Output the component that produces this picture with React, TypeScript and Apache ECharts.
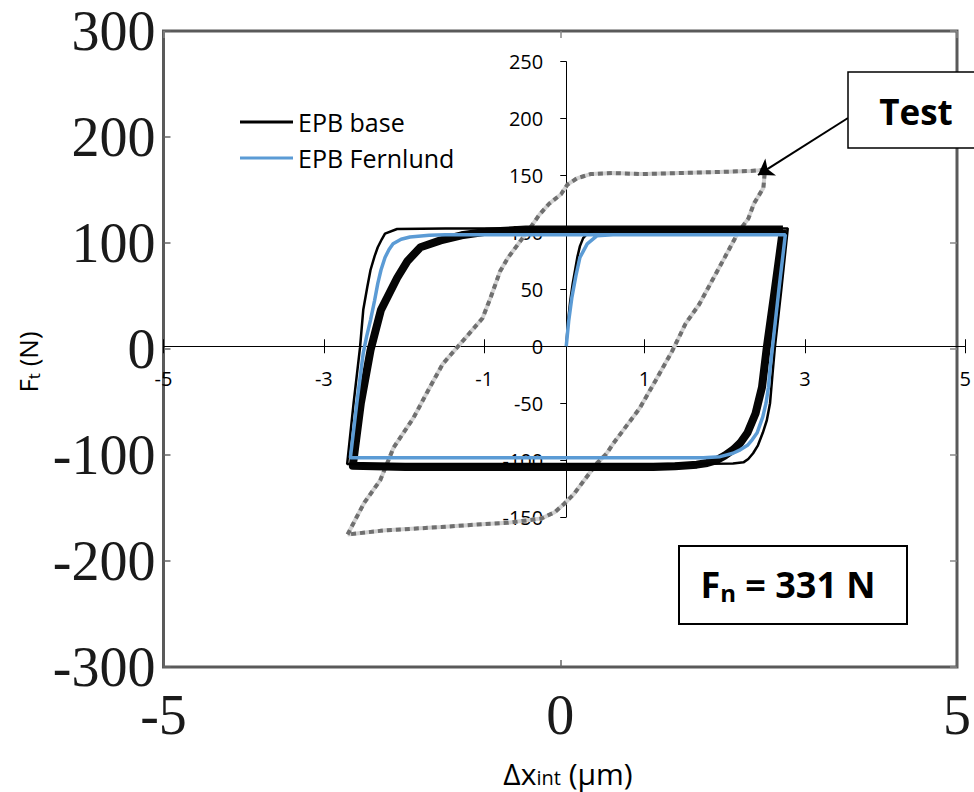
import React, { useEffect, useRef } from "react";
import * as echarts from "echarts";

// ---- Data (outer axes: Test measurement) ----
const testX = [-2.68, -2.59, -2.47, -2.27, -2.1, -1.85, -1.65, -1.48, -1.2, -0.98, -0.88, -0.76, -0.66, -0.53, -0.41, -0.26, -0.14, 0.01, 0.09, 0.21, 0.38, 0.67, 1.04, 1.5, 2.0, 2.4, 2.58, 2.56, 2.44, 2.37, 2.25, 2.07, 1.91, 1.75, 1.58, 1.41, 1.2, 1.0, 0.79, 0.67, 0.58, 0.46, 0.33, 0.17, 0.05, -0.07, -0.24, -0.66, -0.94, -1.5, -2.2, -2.68];
const testY = [-175, -162, -145, -124, -93, -65, -37, -14, 10, 29, 48, 73, 86, 99, 111, 127, 137, 146, 155, 161, 165, 166, 165, 166, 167, 168, 169, 152, 137, 123, 111, 86, 64, 42, 24, -2, -30, -56, -77, -89, -99, -108, -121, -137, -146, -154, -160, -164, -165, -168, -171, -175];

// ---- Data (inner axes: EPB models) ----
const baseThickX = [2.69, 2.59, 2.49, 2.43, 2.35, 2.25, 2.16, 2.07, 1.97, 1.87, 1.75, 1.62, 1.35, 1.08, 0, -2.0, -2.65, -2.55, -2.43, -2.3, -2.1, -1.97, -1.81, -1.56, -1.3, -1.0, -0.5, 0, 2.69];
const baseThickY = [102.5, 50, -1, -36, -59, -76, -85, -91, -96, -100, -102.5, -104, -105.5, -106, -106, -106, -105, -50, -3.5, 32, 60, 75, 87, 93, 97.5, 100.5, 102.5, 102.5, 102.5];

const baseThinX = [0, 0.02, 0.05, 0.08, 0.11, 0.14, 0.17, 0.21, 0.26, 0.33, 0.42, 0.7, 1.5, 2.75, 2.67, 2.59, 2.56, 2.53, 2.49, 2.44, 2.38, 2.32, 2.26, 2.2, 2.07, 1.5, 0, -2.72, -2.64, -2.56, -2.52, -2.47, -2.43, -2.38, -2.34, -2.29, -2.25, -2.1, -1.5, 0, 2.75];
const baseThinY = [0, 20, 40, 55, 67, 79, 88, 95, 99, 101.5, 102.5, 103.2, 103.5, 103.5, 50, -1, -25, -50, -65, -76, -87, -94, -99, -102, -103, -103.5, -103.5, -103.5, -50, -1, 32, 52, 67, 79, 87, 94, 99, 103, 103.5, 103.5, 103.5];

const fernX = [0, 0.03, 0.07, 0.12, 0.17, 0.26, 0.38, 0.58, 1.5, 2.72, 2.64, 2.56, 2.53, 2.51, 2.48, 2.44, 2.4, 2.37, 2.31, 2.25, 2.16, 2.07, 1.91, 1.7, 1.5, 0, -1.5, -2.68, -2.6, -2.52, -2.48, -2.43, -2.38, -2.34, -2.3, -2.25, -2.2, -2.15, -2.05, -1.94, -1.7, -1.5, 0, 2.72];
const fernY = [0, 22, 43, 62, 78, 90, 97, 98, 98, 98, 50, -1, -20, -36, -50, -62, -70, -76, -82, -87, -91, -94, -97, -98, -98, -98, -98, -98, -50, -6, 8, 23, 40, 55, 67, 78, 85, 90, 94, 96, 97.5, 98, 98, 98];

// ---- Axis ranges ----
const outerXRange = [-5, 5];
const outerYRange = [-300, 300];
const innerXRange = [-5, 5];
const innerYRange = [-150, 250];

const zip = (xs: number[], ys: number[]) => xs.map((x, i) => [x, ys[i]]);

const W = 974;
const H = 792;
const PLOT_LEFT = 163.5;
const PLOT_RIGHT = 5;
const INNER_TOP = 61.7;
const INNER_BOTTOM = 275;

export default function App() {
  const ref = useRef<HTMLDivElement>(null);
  useEffect(() => {
    if (!ref.current) return;
    const chart = echarts.init(ref.current, undefined, { renderer: "svg" });
    const serif = '"Liberation Serif", "Times New Roman", serif';
    const sans = '"Open Sans", "Noto Sans", sans-serif';

    // pixel positions of the inner zero lines, derived from the inner scales
    const innerW = W - PLOT_LEFT - PLOT_RIGHT;
    const innerH = H - INNER_TOP - INNER_BOTTOM;
    const zeroX = PLOT_LEFT + innerW * (0 - innerXRange[0]) / (innerXRange[1] - innerXRange[0]);
    const zeroY = INNER_TOP + innerH * (innerYRange[1] - 0) / (innerYRange[1] - innerYRange[0]);

    const hiddenAxis = (gridIndex: number, range: number[]) => ({
      type: "value", gridIndex, min: range[0], max: range[1], show: false,
      axisLine: { show: false, onZero: false }, splitLine: { show: false },
    });

    const option: any = {
      animation: false,
      backgroundColor: "#ffffff",
      grid: [
        { left: PLOT_LEFT, right: PLOT_RIGHT, top: 31, bottom: 125, show: true, borderColor: "#5a5a5a", borderWidth: 3, backgroundColor: "transparent" },
        { left: PLOT_LEFT, right: PLOT_RIGHT, top: INNER_TOP, bottom: INNER_BOTTOM },
        { left: zeroX, right: PLOT_RIGHT, top: INNER_TOP, bottom: INNER_BOTTOM },
        { left: PLOT_LEFT, right: PLOT_RIGHT, top: INNER_TOP, bottom: H - zeroY },
      ],
      legend: {
        data: ["EPB base", "EPB Fernlund"],
        left: 235,
        top: 104,
        orient: "vertical",
        icon: "rect",
        itemWidth: 53,
        itemHeight: 3,
        itemGap: 10,
        selectedMode: false,
        textStyle: { fontFamily: sans, fontSize: 25, color: "#000", lineHeight: 26 },
      },
      xAxis: [
        {
          type: "value", gridIndex: 0, min: outerXRange[0], max: outerXRange[1], interval: 5, position: "bottom",
          axisLine: { show: false, onZero: false }, splitLine: { show: false },
          axisTick: { inside: true, length: 7, lineStyle: { color: "#666", width: 1.5 } },
          axisLabel: { fontFamily: serif, fontSize: 56, lineHeight: 40, color: "#1a1a1a", margin: 28 },
        },
        {
          type: "value", gridIndex: 0, min: outerXRange[0], max: outerXRange[1], interval: 5, position: "top",
          axisLine: { show: false, onZero: false }, splitLine: { show: false },
          axisTick: { inside: true, length: 7, lineStyle: { color: "#888", width: 1.5 } },
          axisLabel: { show: false },
        },
        // inner data axis (hidden)
        hiddenAxis(1, innerXRange),
        // grid 2 companion (hidden)
        hiddenAxis(2, [0, innerXRange[1]]),
        // inner visible x axis, ticks downward with labels
        {
          type: "value", gridIndex: 3, min: innerXRange[0], max: innerXRange[1], interval: 2, position: "bottom",
          axisLine: { show: true, onZero: false, lineStyle: { color: "#000", width: 1 } },
          splitLine: { show: false },
          axisTick: { inside: false, length: 7, lineStyle: { color: "#000", width: 1 } },
          axisLabel: { fontFamily: sans, fontSize: 20, color: "#000", margin: 22 },
        },
        // inner visible x axis, ticks upward (cross ticks)
        {
          type: "value", gridIndex: 3, min: innerXRange[0], max: innerXRange[1], interval: 2, position: "bottom",
          axisLine: { show: false, onZero: false },
          splitLine: { show: false },
          axisTick: { inside: true, length: 7, lineStyle: { color: "#000", width: 1 } },
          axisLabel: { show: false },
        },
      ],
      yAxis: [
        {
          type: "value", gridIndex: 0, min: outerYRange[0], max: outerYRange[1], interval: 100, position: "left",
          axisLine: { show: false, onZero: false }, splitLine: { show: false },
          axisTick: { inside: true, length: 7, lineStyle: { color: "#666", width: 1.5 } },
          axisLabel: { fontFamily: serif, fontSize: 56, lineHeight: 40, color: "#1a1a1a", margin: 8 },
        },
        {
          type: "value", gridIndex: 0, min: outerYRange[0], max: outerYRange[1], interval: 100, position: "right",
          axisLine: { show: false, onZero: false }, splitLine: { show: false },
          axisTick: { inside: true, length: 7, lineStyle: { color: "#888", width: 1.5 } },
          axisLabel: { show: false },
        },
        // inner data axis (hidden)
        hiddenAxis(1, innerYRange),
        // inner visible y axis at x = 0
        {
          type: "value", gridIndex: 2, min: innerYRange[0], max: innerYRange[1], interval: 50, position: "left",
          axisLine: { show: true, onZero: false, lineStyle: { color: "#000", width: 1 } },
          splitLine: { show: false },
          axisTick: { inside: false, length: 6, lineStyle: { color: "#000", width: 1 } },
          axisLabel: { fontFamily: sans, fontSize: 20, color: "#000", margin: 23 },
        },
        // grid 3 companion (hidden)
        hiddenAxis(3, [0, innerYRange[1]]),
      ],
      series: [
        {
          name: "Test-bg", type: "line", xAxisIndex: 0, yAxisIndex: 0, data: zip(testX, testY),
          showSymbol: false, symbol: "none", silent: true,
          lineStyle: { color: "#d2d2d2", width: 4 },
        },
        {
          name: "Test", type: "line", xAxisIndex: 0, yAxisIndex: 0, data: zip(testX, testY),
          showSymbol: false, symbol: "none", silent: true,
          lineStyle: { color: "#6f6f6f", width: 4, type: [5, 4] },
          markLine: {
            silent: true,
            symbol: ["none", "arrow"],
            symbolSize: 15,
            label: { show: false },
            lineStyle: { color: "#000", width: 2, type: "solid" },
            data: [[{ x: 848, y: 118 }, { x: 758, y: 175 }]],
          },
        },
        {
          name: "EPB base", type: "line", xAxisIndex: 2, yAxisIndex: 2, data: zip(baseThickX, baseThickY),
          showSymbol: false, symbol: "none", color: "#000",
          lineStyle: { color: "#050505", width: 8, join: "round" },
        },
        {
          name: "EPB base", type: "line", xAxisIndex: 2, yAxisIndex: 2, data: zip(baseThinX, baseThinY),
          showSymbol: false, symbol: "none", color: "#000",
          lineStyle: { color: "#000", width: 2.5 },
        },
        {
          name: "EPB Fernlund", type: "line", xAxisIndex: 2, yAxisIndex: 2, data: zip(fernX, fernY),
          showSymbol: false, symbol: "none", color: "#5b9bd5",
          lineStyle: { color: "#5b9bd5", width: 3.5 },
        },
      ],
      graphic: [
        {
          type: "rect", z: 100, shape: { x: 848, y: 72, width: 140, height: 76 },
          style: { fill: "#fff", stroke: "#000", lineWidth: 1.5 },
        },
        {
          type: "text", z: 101, x: 916, y: 111,
          style: { text: "Test", fontFamily: sans, fontWeight: "bold", fontSize: 35, fill: "#000", align: "center", verticalAlign: "middle" },
        },
        {
          type: "rect", z: 100, shape: { x: 679, y: 546, width: 228, height: 78 },
          style: { fill: "#fff", stroke: "#000", lineWidth: 2 },
        },
        {
          type: "text", z: 101, x: 788, y: 584,
          style: {
            text: "{a|F}{s|n}{a| = 331 N}", align: "center", verticalAlign: "middle",
            rich: {
              a: { fontFamily: sans, fontWeight: "bold", fontSize: 36, fill: "#000", color: "#000", lineHeight: 42 },
              s: { fontFamily: sans, fontWeight: "bold", fontSize: 24, fill: "#000", color: "#000", lineHeight: 42, padding: [16, 0, 0, 0] },
            },
          },
        },
        {
          type: "text", z: 101, x: 568, y: 773,
          style: {
            text: "{a|Δx}{s|int}{a| (µm)}", align: "center", verticalAlign: "middle",
            rich: {
              a: { fontFamily: sans, fontSize: 30, fill: "#000", color: "#000", lineHeight: 36 },
              s: { fontFamily: sans, fontSize: 20, fill: "#000", color: "#000", lineHeight: 36, padding: [8, 0, 0, 0] },
            },
          },
        },
        {
          type: "text", z: 101, x: 28, y: 362, rotation: Math.PI / 2,
          style: {
            text: "{a|F}{s|t}{a| (N)}", align: "center", verticalAlign: "middle",
            rich: {
              a: { fontFamily: sans, fontSize: 26, fill: "#000", color: "#000", lineHeight: 32 },
              s: { fontFamily: sans, fontSize: 17, fill: "#000", color: "#000", lineHeight: 32, padding: [10, 0, 0, 0] },
            },
          },
        },
      ],
    };
    chart.setOption(option);
    return () => chart.dispose();
  }, []);
  return <div ref={ref} style={{ position: "fixed", left: 0, top: 0, width: W, height: H }} />;
}
